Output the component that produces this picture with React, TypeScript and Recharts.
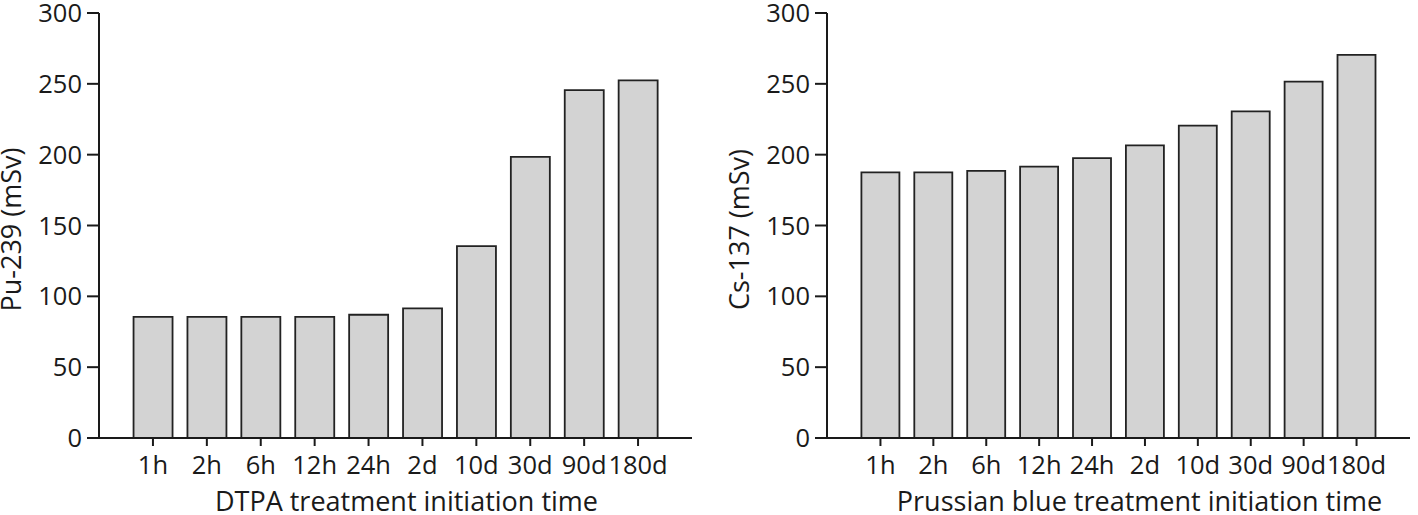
import { BarChart, Bar, XAxis, YAxis, Label } from "recharts";

const categories = ["1h", "2h", "6h", "12h", "24h", "2d", "10d", "30d", "90d", "180d"];
const pu239 = [85.5, 85.5, 85.5, 85.5, 87, 91.5, 135.5, 198.5, 245.5, 252.5];
const cs137 = [187.5, 187.5, 188.5, 191.5, 197.5, 206.5, 220.5, 230.5, 251.5, 270.5];
const yTicks = [0, 50, 100, 150, 200, 250, 300];

const FONT = "'Open Sans', 'Noto Sans', sans-serif";
const INK = "#1a1a1a";
const tickStyle = { fontSize: 25.5, fill: INK, fontFamily: FONT };
const titleStyle = { fontSize: 27, fill: INK, fontFamily: FONT };

interface PanelProps {
  values: number[];
  yTitle: string;
  xTitle: string;
  width: number;
  titleDx: number;
}

function Panel({ values, yTitle, xTitle, width, titleDx }: PanelProps) {
  const data = categories.map((c, i) => ({ name: c, value: values[i] }));

  return (
    <BarChart width={width} height={515} data={data} margin={{ top: 13, right: 8, bottom: 0, left: 0 }} barCategoryGap="14%">
      <XAxis
        dataKey="name"
        height={77}
        padding={{ left: 27, right: 27 }}
        tick={tickStyle}
        tickSize={8}
        tickMargin={10}
        axisLine={{ stroke: INK, strokeWidth: 2 }}
        tickLine={{ stroke: INK, strokeWidth: 2 }}
        interval={0}
      >
        <Label value={xTitle} position="insideBottom" offset={4} dx={titleDx} style={{ ...titleStyle, textAnchor: "middle" }} />
      </XAxis>
      <YAxis
        width={99}
        domain={[0, 300]}
        ticks={yTicks}
        interval={0}
        tick={tickStyle}
        tickSize={12}
        tickMargin={5}
        axisLine={{ stroke: INK, strokeWidth: 2 }}
        tickLine={{ stroke: INK, strokeWidth: 2 }}
      >
        <Label
          content={({ viewBox }: any) => {
            const cx = viewBox.x + 21;
            const cy = viewBox.y + viewBox.height / 2 + 4;
            return (
              <text x={cx} y={cy} transform={`rotate(-90 ${cx} ${cy})`} textAnchor="middle" style={titleStyle}>
                {yTitle}
              </text>
            );
          }}
        />
      </YAxis>
      <Bar dataKey="value" fill="#d3d3d3" stroke="#222" strokeWidth={1.8} isAnimationActive={false} />
    </BarChart>
  );
}

export default function App() {
  return (
    <div style={{ position: "absolute", left: 0, top: 0, width: 1418, height: 515, background: "#fff" }}>
      <div style={{ position: "absolute", left: 0, top: 0 }}>
        <Panel values={pu239} yTitle="Pu-239 (mSv)" xTitle="DTPA treatment initiation time" width={700} titleDx={11} />
      </div>
      <div style={{ position: "absolute", left: 728, top: 0 }}>
        <Panel values={cs137} yTitle="Cs-137 (mSv)" xTitle="Prussian blue treatment initiation time" width={690} titleDx={21} />
      </div>
    </div>
  );
}
